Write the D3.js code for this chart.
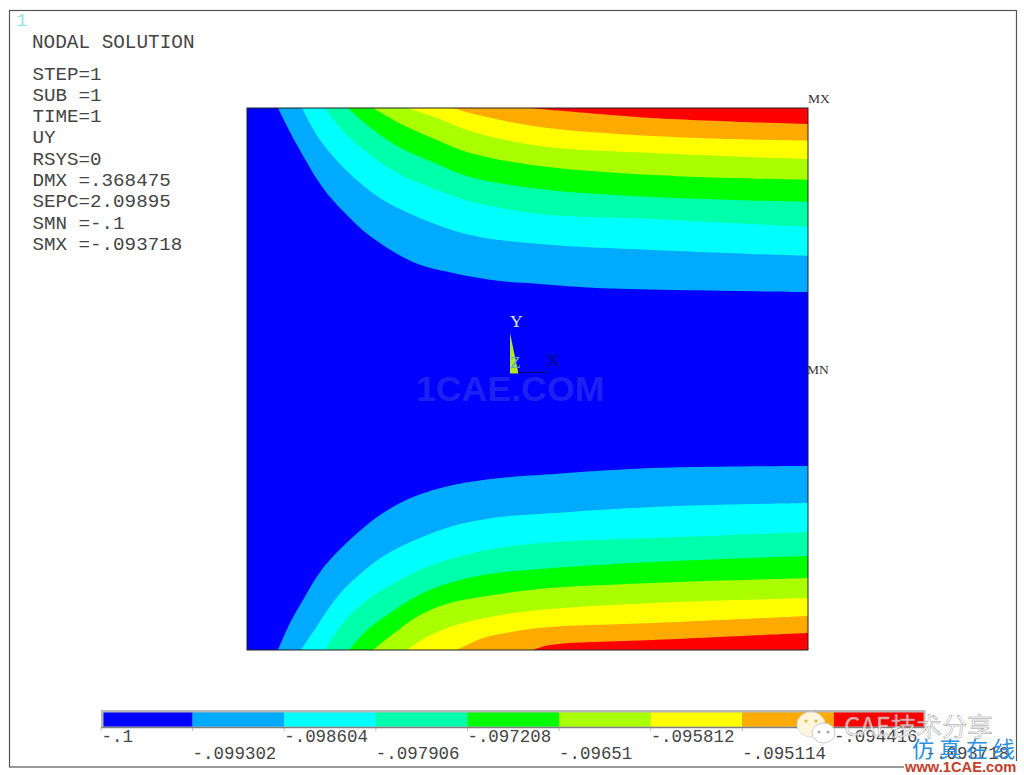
<!DOCTYPE html>
<html><head><meta charset="utf-8">
<script src="https://cdnjs.cloudflare.com/ajax/libs/d3/7.8.5/d3.min.js"></script>
<style>html,body{margin:0;padding:0;background:#fff;overflow:hidden}svg{display:block}</style>
</head><body><svg id="c" width="1024" height="775"></svg>
<script>
const levels=[-.1,-.099302,-.098604,-.097906,-.097208,-.09651,-.095812,-.095114,-.094416,-.093718];
const levelLabels=["-.1","-.099302","-.098604","-.097906","-.097208","-.09651","-.095812","-.095114","-.094416","-.093718"];
const bandColors=["#0000ff","#00aaff","#00ffff","#00ffaa","#00ff00","#aaff00","#ffff00","#ffaa00","#ff0000"];
const infoLines=["STEP=1","SUB =1","TIME=1","UY","RSYS=0","DMX =.368475","SEPC=2.09895","SMN =-.1","SMX =-.093718"];
// contour lines in model units, upper half of the plate
const top1=[[31,542],[50,505],[76,462],[96,439],[123,414],[166,388],[206,377],[253,369],[293,366],[350,362],[561,358]];
const top2=[[55,542],[73,510],[100,479],[133,452],[173,432],[223,415],[293,406],[406,400],[561,394]];
const top3=[[78,542],[96,519],[123,495],[156,474],[190,460],[226,448],[293,436],[406,431],[561,423]];
const top4=[[101,542],[120,525],[150,504],[183,489],[223,473],[293,461],[406,453],[561,448]];
const top5=[[126,542],[156,525],[190,510],[223,497],[293,484],[406,475],[561,470]];
const top6=[[160,542],[190,532],[223,519],[293,504],[406,497],[561,491]];
const top7=[[206,542],[223,537],[293,523],[406,514],[561,509]];
const top8=[[283,542],[406,532],[561,526]];
// contour lines, lower half
const bot1=[[31,0],[43,27],[56,50],[76,82],[106,113],[136,137],[166,153],[206,165],[253,172],[293,175],[406,182],[561,184]];
const bot2=[[54,0],[70,24],[90,53],[113,76],[140,96],[173,112],[206,124],[253,133],[293,136],[406,143],[561,147]];
const bot3=[[78,0],[96,27],[120,50],[146,66],[173,80],[200,90],[240,100],[293,107],[406,112],[561,118]];
const bot4=[[102,0],[120,20],[143,37],[170,54],[196,65],[236,75],[293,81],[406,88],[561,94]];
const bot5=[[126,0],[146,16],[173,35],[203,47],[253,56],[303,62],[406,67],[561,72]];
const bot6=[[160,0],[176,11],[195,20],[220,28],[260,36],[303,41],[406,47],[561,52]];
const bot7=[[210,0],[236,12],[270,19],[303,23],[406,27],[561,34]];
const bot8=[[286,0],[303,5],[406,10],[561,17]];
const topContours=[top1,top2,top3,top4,top5,top6,top7,top8];
const botContours=[bot1,bot2,bot3,bot4,bot5,bot6,bot7,bot8];

const svg=d3.select("#c");
const mono="'Liberation Mono','Courier New',monospace";
const serif="'Liberation Serif',serif";
const x=d3.scaleLinear().domain([0,561]).range([247,808]);
const y=d3.scaleLinear().domain([0,542]).range([650,108]);
const lg=d3.scaleLinear().domain(d3.extent(levels)).range([101,925.5]);
const area=d3.line().x(d=>x(d[0])).y(d=>y(d[1])).curve(d3.curveCatmullRom.alpha(0.5));
const closed=(c,yEdge)=>area(c)+"L"+x(561)+","+y(yEdge)+"Z";

svg.append("rect").attr("width",1024).attr("height",775).attr("fill","#fff");
svg.append("rect").attr("x",9.5).attr("y",10.5).attr("width",1007).attr("height",756.5)
  .attr("fill","none").attr("stroke","#555").attr("stroke-width",1.2);

svg.append("rect").attr("x",x(0)).attr("y",y(542)).attr("width",x(561)-x(0)).attr("height",y(0)-y(542)).attr("fill",bandColors[0]);
topContours.forEach((c,i)=>svg.append("path").attr("d",closed(c,542)).attr("fill",bandColors[i+1]));
botContours.forEach((c,i)=>svg.append("path").attr("d",closed(c,0)).attr("fill",bandColors[i+1]));
svg.append("rect").attr("x",x(0)).attr("y",y(542)).attr("width",x(561)-x(0)).attr("height",y(0)-y(542))
  .attr("fill","none").attr("stroke","#222").attr("stroke-width",1);

const t=(s,px,py,size,fill,fam)=>svg.append("text").attr("x",px).attr("y",py).attr("font-family",fam||mono).attr("font-size",size).attr("fill",fill).text(s);
t("1",16,26,19,"#8fe8e8");
t("NODAL SOLUTION",32,47.5,19.35,"#444");
infoLines.forEach((s,i)=>t(s,32.5,79.5+i*21.3,19.2,"#444"));
t("MX",808,103,13.5,"#333",serif);
t("MN",807,374,13.5,"#333",serif);

// triad
svg.append("path").attr("d","M510,333L510,373.5L518.5,373.5Z").attr("fill","#b4e61e");
svg.append("line").attr("x1",518).attr("x2",548).attr("y1",372.5).attr("y2",372.5).attr("stroke","#0a0a60").attr("stroke-width",1);
t("Y",510,327,17.5,"#d8e4f0",serif);
t("Z",510,368,17.5,"#50b4c8",serif);
t("X",547,366,17.5,"#0a0a80",serif);
svg.append("text").attr("x",416).attr("y",401).attr("font-family","'Liberation Sans',Arial,sans-serif").attr("font-weight",700)
  .attr("font-size",35.7).attr("fill","#1c22f2").text("1CAE.COM");

// legend
svg.append("rect").attr("x",lg(levels[0])).attr("y",710).attr("width",lg(levels[9])-lg(levels[0])).attr("height",18).attr("fill","#b8b8b8");
svg.append("line").attr("x1",lg(levels[0])).attr("x2",lg(levels[9])).attr("y1",727.5).attr("y2",727.5).attr("stroke","#808080").attr("stroke-width",1.5);
bandColors.forEach((c,i)=>svg.append("rect").attr("x",lg(levels[i])+(i?0:2.5)).attr("y",712.5)
  .attr("width",lg(levels[i+1])-lg(levels[i])-(i?0:2.5)-(i==8?2:0)).attr("height",14).attr("fill",c));
levels.forEach((v,i)=>{
  svg.append("line").attr("x1",lg(v)).attr("x2",lg(v)).attr("y1",728).attr("y2",731).attr("stroke","#bbb");
  t(levelLabels[i],lg(v)+(i?0:0.5),i%2?758.5:741.5,17.45,"#444");
});

// source watermark
const wm=svg.append("g");
wm.append("ellipse").attr("cx",811).attr("cy",724.5).attr("rx",14).attr("ry",12.5).attr("fill","#fff6dc").attr("stroke","#ddd");
wm.append("ellipse").attr("cx",823.5).attr("cy",733).attr("rx",11.5).attr("ry",10).attr("fill","#fff").attr("stroke","#ccc");
[[806,721,"#e0b84a"],[816,721,"#e0b84a"],[819,732,"#aaa"],[828,732,"#aaa"]].forEach(d=>wm.append("circle").attr("cx",d[0]).attr("cy",d[1]).attr("r",1.6).attr("fill",d[2]));
wm.append("text").attr("x",844).attr("y",736).attr("font-family","'Noto Sans CJK SC','Noto Sans',sans-serif").attr("font-size",25.5)
  .attr("fill","#fff").attr("fill-opacity",.7).attr("stroke","#999").attr("stroke-width",.5).text("CAE技术分享");
wm.append("text").attr("x",912).attr("y",757).attr("font-family","'Noto Sans CJK SC',sans-serif").attr("font-size",22).attr("letter-spacing",5)
  .attr("fill","#2a90e0").text("仿真在线");
wm.append("rect").attr("x",904).attr("y",761).attr("width",118).attr("height",12).attr("fill","#fff");
wm.append("text").attr("x",905).attr("y",772).attr("font-family","'Liberation Sans',Arial,sans-serif").attr("font-weight",700).attr("font-size",14.7)
  .attr("fill","#c83c28").text("www.1CAE.com");
</script></body></html>
